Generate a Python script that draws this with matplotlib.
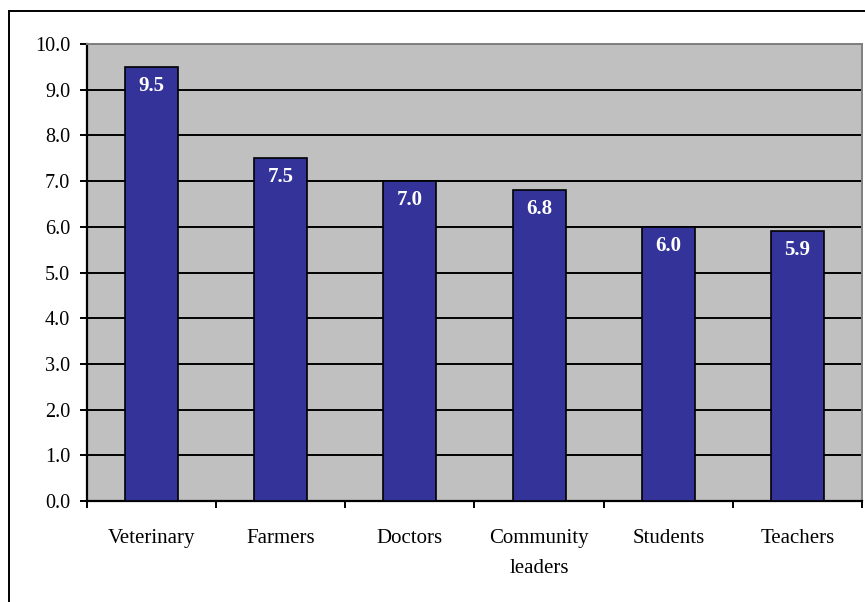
import matplotlib
matplotlib.use("Agg")
import matplotlib.pyplot as plt
from matplotlib.lines import Line2D

categories = ["Veterinary", "Farmers", "Doctors", "Community\nleaders", "Students", "Teachers"]
values = [9.5, 7.5, 7.0, 6.8, 6.0, 5.9]
y_ticks = [0.0, 1.0, 2.0, 3.0, 4.0, 5.0, 6.0, 7.0, 8.0, 9.0, 10.0]

plt.rcParams["font.family"] = ["Liberation Serif", "DejaVu Serif"]

fig = plt.figure(figsize=(8.65, 6.02), dpi=100)
ax = fig.add_axes([87 / 865, 1 - 501 / 602, (862 - 87) / 865, (501 - 44) / 602])
ax.set_facecolor("#C0C0C0")

x = list(range(len(categories)))
ax.set_axisbelow(True)
ax.yaxis.grid(True, color="black", linewidth=1.4)
ax.bar(x, values, width=0.41, color="#333399", edgecolor="black", linewidth=1.2, zorder=3)

for xi, v in zip(x, values):
    ax.annotate(f"{v:.1f}", (xi, v), xytext=(0, -19), textcoords="offset pixels",
                ha="center", va="center", color="white", fontweight="bold",
                fontsize=15, zorder=4)

ax.set_xlim(-0.5, len(categories) - 0.5)
ax.set_ylim(0, 10)
ax.set_yticks(y_ticks)
ax.set_yticklabels([f"{t:.1f}" for t in y_ticks], fontsize=14.5)
ax.tick_params(axis="y", direction="out", length=5, width=1.4, pad=7, colors="black")

ax.set_xticks(x)
ax.set_xticklabels(categories, fontsize=15, linespacing=1.8)
ax.tick_params(axis="x", which="major", length=0, pad=20)
ax.set_xticks([i + 0.5 for i in range(-1, len(categories))], minor=True)
ax.tick_params(axis="x", which="minor", direction="out", length=5, width=1.4)

for side in ("left", "bottom"):
    ax.spines[side].set_color("black")
    ax.spines[side].set_linewidth(1.6)
for side in ("top", "right"):
    ax.spines[side].set_color("#808080")
    ax.spines[side].set_linewidth(1.4)

# chart frame
fig.add_artist(Line2D([8.5 / 865, 8.5 / 865], [0, 1 - 10.5 / 602], color="black",
                      linewidth=1.4, transform=fig.transFigure))
fig.add_artist(Line2D([8.5 / 865, 1], [1 - 10.5 / 602, 1 - 10.5 / 602], color="black",
                      linewidth=1.4, transform=fig.transFigure))

fig.savefig("out.png", dpi=100)
